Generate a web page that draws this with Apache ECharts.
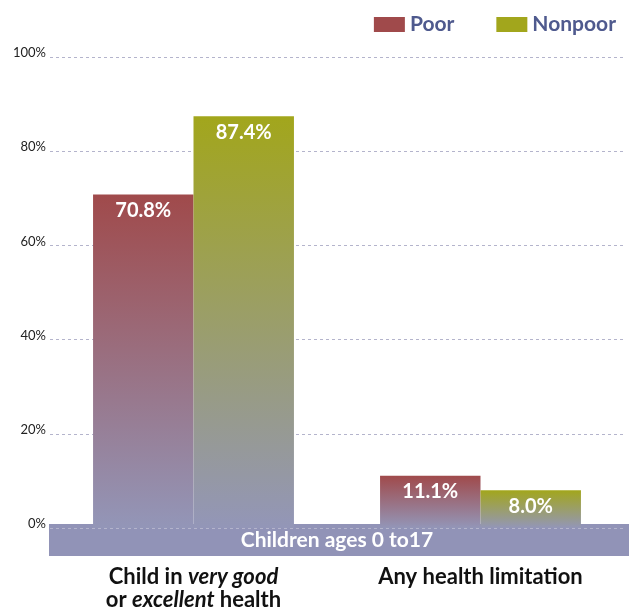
<!DOCTYPE html>
<html>
<head>
<meta charset="utf-8">
<script src="https://cdn.jsdelivr.net/npm/echarts@6/dist/echarts.min.js"></script>
<style>html,body{margin:0;padding:0;background:#fff}#c{width:629px;height:610px}</style>
</head>
<body>
<div id="c"></div>
<script>
const categories = ["Child in very good or excellent health", "Any health limitation"];
const categoryLabels = ["Child in {i|very good}\nor {i|excellent} health", "Any health limitation"];
const poor = [70.8, 11.1];
const nonpoor = [87.4, 8.0];
const yTicks = [0, 20, 40, 60, 80, 100];
const bandText = "Children ages 0 to17";

const FONT = "Lato";
const chart = echarts.init(document.getElementById('c'));
function grad(top, bottom) {
  return new echarts.graphic.LinearGradient(0, 0, 0, 1, [
    {offset: 0, color: top}, {offset: 1, color: bottom}
  ]);
}
const labelStyle = {
  show: true, position: 'insideTop', distance: 6,
  color: '#fff', fontSize: 20, fontWeight: 'bold', fontFamily: FONT,
  formatter: p => p.value.toFixed(1) + '%'
};
chart.setOption({
  animation: false,
  textStyle: {fontFamily: FONT},
  grid: {left: 50, right: 5, top: 57, bottom: 82, containLabel: false, outerBoundsMode: 'none'},
  legend: {
    top: 9, right: 8, itemWidth: 31, itemHeight: 15, itemGap: 42,
    icon: 'rect',
    textStyle: {color: '#4f5a8e', fontSize: 21, fontWeight: 'bold', fontFamily: FONT},
    data: [
      {name: 'Poor', itemStyle: {color: '#a04a4b'}},
      {name: 'Nonpoor', itemStyle: {color: '#a2a61c'}}
    ]
  },
  xAxis: {
    type: 'category', data: categories,
    axisLine: {show: false}, axisTick: {show: false},
    axisLabel: {
      margin: 37, color: '#111', fontSize: 22, fontWeight: 'bold', lineHeight: 23, fontFamily: FONT,
      formatter: (v, i) => categoryLabels[i],
      rich: {i: {fontStyle: 'italic', fontWeight: 'bold', fontSize: 22, color: '#111', fontFamily: FONT, lineHeight: 23}}
    }
  },
  yAxis: {
    type: 'value', min: yTicks[0], max: yTicks[yTicks.length - 1], interval: 20,
    axisLine: {show: false}, axisTick: {show: false},
    axisLabel: {formatter: '{value}%', color: '#222', fontSize: 13, margin: 4, verticalAlign: 'bottom', lineHeight: 8, fontFamily: FONT},
    splitLine: {lineStyle: {type: [3, 3], color: '#b4b4cc', width: 1}}
  },
  series: [
    {name: 'Poor', type: 'bar', data: poor, barGap: '0%', barCategoryGap: '30%',
     itemStyle: {color: grad('#a04a4b', '#9396b8')}, label: labelStyle},
    {name: 'Nonpoor', type: 'bar', data: nonpoor,
     itemStyle: {color: grad('#a2a61c', '#9396b8')}, label: labelStyle}
  ],
  graphic: [{
    type: 'group', left: 49, top: 524, z: 100,
    children: [{
      type: 'rect', shape: {x: 0, y: 0, width: 580, height: 32},
      style: {fill: '#9193b7'}
    }, {
      type: 'text', x: 288, y: 16,
      style: {text: bandText, fill: '#fff', fontSize: 21, fontWeight: 'bold', fontFamily: FONT, align: 'center', verticalAlign: 'middle'}
    }]
  }]
});
</script>
</body>
</html>
